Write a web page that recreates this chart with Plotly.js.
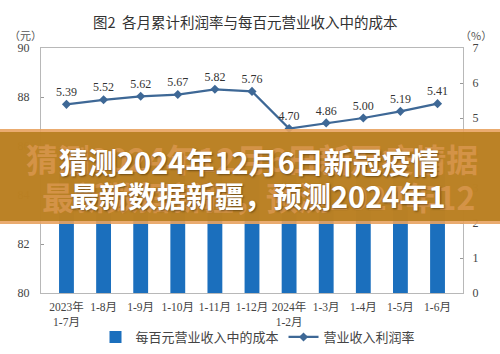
<!DOCTYPE html>
<html>
<head>
<meta charset="utf-8">
<script src="https://cdn.plot.ly/plotly-3.0.1.min.js"></script>
<style>html,body{margin:0;padding:0;background:#fff;}#chart{width:500px;height:354px;}</style>
</head>
<body>
<div id="chart"></div>
<script>
const categories = ['2023年<br>1-7月','1-8月','1-9月','1-10月','1-11月','1-12月','2024年<br>1-2月','1-3月','1-4月','1-5月','1-6月'];
const costPer100 = [85.32, 85.29, 85.19, 85.11, 85.09, 84.96, 85.40, 85.35, 85.34, 85.31, 85.24];
const profitRate = [5.39, 5.52, 5.62, 5.67, 5.82, 5.76, 4.70, 4.86, 5.00, 5.19, 5.41];
const profitLabels = profitRate.map(v => v.toFixed(2));
const barName = '每百元营业收入中的成本';
const lineName = '营业收入利润率';
const chartTitle = '图2  各月累计利润率与每百元营业收入中的成本';
const bannerLine1 = '猜测2024年12月6日新冠疫情';
const bannerLine2 = '最新数据新疆，预测2024年1';

const serif = 'Liberation Serif, DejaVu Serif, Noto Sans CJK SC, serif';
const cjk = 'Noto Sans CJK SC, sans-serif';

const traces = [
  {
    type: 'bar', name: barName, x: categories, y: costPer100,
    marker: {color: '#1b6fbd'}, yaxis: 'y'
  },
  {
    type: 'scatter', mode: 'lines+markers+text', name: lineName,
    x: categories, y: profitRate, yaxis: 'y2',
    text: profitLabels, textposition: 'top center',
    textfont: {family: serif, size: 12, color: '#333'},
    line: {color: '#3e6896', width: 2.2},
    marker: {symbol: 'diamond', size: 7, color: '#3e6896'}
  }
];

const W = 500, H = 354;
const plotTop = 48, plotBottom = 293, plotH = plotBottom - plotTop;
const plotLeft = 41, plotW = 422;
const py = px => (plotBottom - px) / plotH;
const pxx = px => (px - plotLeft) / plotW;

const layout = {
  width: W, height: H,
  margin: {l: 41, r: 37, t: 48, b: 61, pad: 0, autoexpand: false},
  paper_bgcolor: '#fff', plot_bgcolor: '#fff',
  showlegend: true,
  legend: {orientation: 'h', xref: 'container', x: 258 / W, xanchor: 'center',
           yref: 'container', y: 1 - 337 / H, yanchor: 'middle', bgcolor: 'rgba(0,0,0,0)',
           font: {family: cjk, size: 13, color: '#444'}, itemwidth: 30, tracegroupgap: 0,
           traceorder: 'normal'},
  bargap: 0.6,
  xaxis: {
    type: 'category', showline: true, linecolor: '#b8b8b8', linewidth: 1, mirror: true,
    showgrid: false, ticks: '', tickfont: {family: serif, size: 11.5, color: '#444'},
    ticklabelstandoff: 3, automargin: false, fixedrange: true
  },
  yaxis: {
    range: [80, 90], dtick: 2, showgrid: false, showline: true, linecolor: '#b8b8b8',
    ticks: 'inside', ticklen: 3, tickcolor: '#999', zeroline: false, automargin: false,
    tickfont: {family: serif, size: 12, color: '#444'}, ticklabelstandoff: 8
  },
  yaxis2: {
    range: [0, 7], dtick: 1, overlaying: 'y', side: 'right', showgrid: false,
    showline: true, linecolor: '#b8b8b8', ticks: 'inside', ticklen: 3, tickcolor: '#999',
    zeroline: false, automargin: false, tickfont: {family: serif, size: 12, color: '#444'}, ticklabelstandoff: 6
  },
  annotations: [
    {text: chartTitle, xref: 'paper', yref: 'paper', x: pxx(245), y: py(21), xanchor: 'center', yanchor: 'middle',
     showarrow: false, font: {family: cjk, size: 14.5, color: '#333'}},
    {text: '（元）', xref: 'paper', yref: 'paper', x: pxx(25), y: py(35), xanchor: 'center', yanchor: 'middle',
     showarrow: false, font: {family: cjk, size: 11, color: '#555'}},
    {text: '（%）', xref: 'paper', yref: 'paper', x: pxx(476), y: py(35), xanchor: 'center', yanchor: 'middle',
     showarrow: false, font: {family: cjk, size: 11, color: '#555'}},
    // ghost (blurred) copy of the banner text
    {text: bannerLine1 + '据', xref: 'paper', yref: 'paper', x: pxx(252), y: py(158), xanchor: 'center', yanchor: 'middle',
     showarrow: false, font: {family: cjk, size: 32, color: 'rgba(238,165,105,0.5)', weight: 700}},
    {text: bannerLine2 + '2', xref: 'paper', yref: 'paper', x: pxx(258), y: py(196), xanchor: 'center', yanchor: 'middle',
     showarrow: false, font: {family: cjk, size: 32, color: 'rgba(238,165,105,0.5)', weight: 700}},
    {text: bannerLine1, xref: 'paper', yref: 'paper', x: pxx(249), y: py(161), xanchor: 'center', yanchor: 'middle',
     showarrow: false, font: {family: cjk, size: 29, color: '#ffffff', weight: 700, shadow: '1px 1px 2px rgba(60,40,10,0.6)'}},
    {text: bannerLine2, xref: 'paper', yref: 'paper', x: pxx(258), y: py(195), xanchor: 'center', yanchor: 'middle',
     showarrow: false, font: {family: cjk, size: 29, color: '#ffffff', weight: 700, shadow: '1px 1px 2px rgba(60,40,10,0.6)'}}
  ],
  shapes: [
    {type: 'rect', xref: 'paper', yref: 'paper', x0: pxx(0), x1: pxx(500), y0: py(224), y1: py(129),
     line: {width: 0}, fillcolor: 'rgba(232,162,95,0.9)', layer: 'above'},
    {type: 'rect', xref: 'paper', yref: 'paper', x0: pxx(0), x1: pxx(500), y0: py(221), y1: py(132),
     line: {width: 0}, fillcolor: 'rgba(179,124,26,0.86)', layer: 'above'}
  ]
};

Plotly.newPlot('chart', traces, layout, {displayModeBar: false, staticPlot: true});
</script>
</body>
</html>
